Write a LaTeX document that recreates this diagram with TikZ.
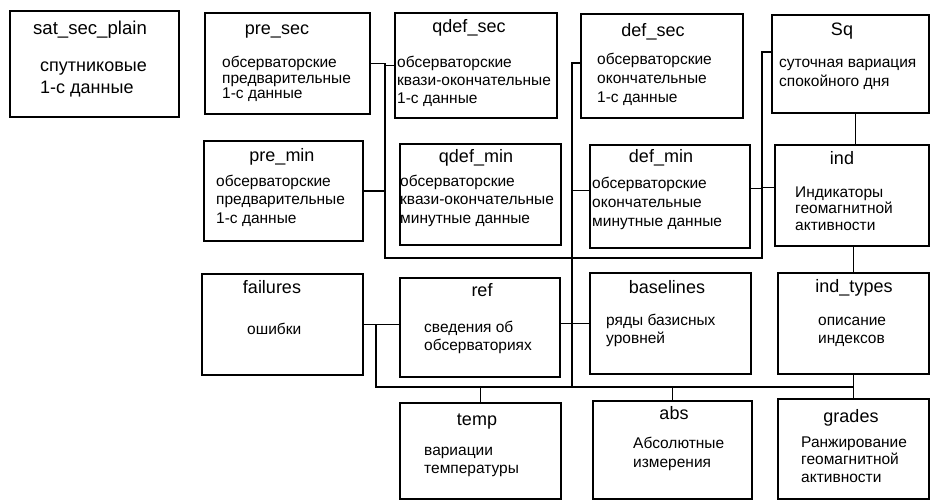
\documentclass[tikz,border=0pt]{standalone}
\usepackage{fontspec}
\setmainfont{Liberation Sans}
\usetikzlibrary{positioning, calc}
\tikzset{
  tbl/.style={
    rectangle, draw=black, line width=2.2pt, anchor=north west,
    inner sep=0pt
  },
  ttl/.style={anchor=base, inner sep=0pt, font=\fontsize{18}{20}\selectfont},
  dsc/.style={
    anchor=base west, inner sep=0pt, align=left,
    font=\fontsize{15.5}{#1}\selectfont
  },
  dsc/.default=18,
  link/.style={draw=black, line width=1.3pt}
}

\begin{document}
\begin{tikzpicture}[x=1pt, y=-1pt]
\useasboundingbox (0,0) rectangle (930,500);

% ── Row 1: 1-s tables (y=10..117) ────────────────────────────────────────────
% (body nodes sit on the baseline of their last line)
\node[tbl, minimum width=169pt, minimum height=106pt] (satsec) at (9,10) {};
\node[ttl, font=\fontsize{18.6}{20}\selectfont] (satsec-t) at (90,35) {sat\_sec\_plain};
\node[dsc=22, font=\fontsize{18}{22}\selectfont] (satsec-d) at (40,94) {спутниковые\\1-с данные};

\node[tbl, minimum width=165pt, minimum height=101pt] (presec) at (204,12) {};
\node[ttl] (presec-t) at (277,35) {pre\_sec};
\node[dsc=15.5] (presec-d) at (222,99) {обсерваторские\\предварительные\\1-с данные};

\node[tbl, minimum width=162pt, minimum height=105pt] (qdefsec) at (394,12) {};
\node[ttl] (qdefsec-t) at (469,33) {qdef\_sec};
\node[dsc] (qdefsec-d) at (397,104) {обсерваторские\\квази-окончательные\\1-с данные};

\node[tbl, minimum width=162pt, minimum height=104pt] (defsec) at (580,13) {};
\node[ttl] (defsec-t) at (653,37) {def\_sec};
\node[dsc=19] (defsec-d) at (597,103) {обсерваторские\\окончательные\\1-с данные};

\node[tbl, minimum width=157pt, minimum height=98pt] (sq) at (771,14) {};
\node[ttl] (sq-t) at (842,36) {Sq};
\node[dsc=19] (sq-d) at (779,87) {суточная вариация\\спокойного дня};

% ── Row 2: minute tables and indices (y=140..247) ────────────────────────────
\node[tbl, minimum width=159pt, minimum height=100pt] (premin) at (203,140) {};
\node[ttl] (premin-t) at (282,162) {pre\_min};
\node[dsc] (premin-d) at (216,223) {обсерваторские\\предварительные\\1-с данные};

\node[tbl, minimum width=161pt, minimum height=101pt] (qdefmin) at (399,143) {};
\node[ttl] (qdefmin-t) at (476,163) {qdef\_min};
\node[dsc=18.5] (qdefmin-d) at (400,223) {обсерваторские\\квази-окончательные\\минутные данные};

\node[tbl, minimum width=160pt, minimum height=103pt] (defmin) at (589,144) {};
\node[ttl] (defmin-t) at (661,163) {def\_min};
\node[dsc=19.5] (defmin-d) at (592,227) {обсерваторские\\окончательные\\минутные данные};

\node[tbl, minimum width=154pt, minimum height=101pt] (ind) at (774,144) {};
\node[ttl] (ind-t) at (842,165) {ind};
\node[dsc=16.5] (ind-d) at (795,230) {Индикаторы\\геомагнитной\\активности};

% ── Row 3: reference tables (y=272..376) ─────────────────────────────────────
\node[tbl, minimum width=161pt, minimum height=101pt] (failures) at (201,273) {};
\node[ttl] (failures-t) at (272,294) {failures};
\node[dsc] (failures-d) at (247,334) {ошибки};

\node[tbl, minimum width=160pt, minimum height=99pt] (ref) at (399,277) {};
\node[ttl] (ref-t) at (482,296) {ref};
\node[dsc] (ref-d) at (424,350) {сведения об\\обсерваториях};

\node[tbl, minimum width=161pt, minimum height=101pt] (baselines) at (589,272) {};
\node[ttl] (baselines-t) at (667,293) {baselines};
\node[dsc] (baselines-d) at (606,343) {ряды базисных\\уровней};

\node[tbl, minimum width=151pt, minimum height=101pt] (indtypes) at (777,272) {};
\node[ttl] (indtypes-t) at (854,292) {ind\_types};
\node[dsc] (indtypes-d) at (818,343) {описание\\индексов};

% ── Row 4: bottom tables (y=398..498) ────────────────────────────────────────
\node[tbl, minimum width=161pt, minimum height=96pt] (temp) at (399,402) {};
\node[ttl] (temp-t) at (477,425) {temp};
\node[dsc] (temp-d) at (424,473) {вариации\\температуры};

\node[tbl, minimum width=159pt, minimum height=98pt] (abs) at (592,400) {};
\node[ttl] (abs-t) at (674,419) {abs};
\node[dsc=19] (abs-d) at (633,467) {Абсолютные\\измерения};

\node[tbl, minimum width=151pt, minimum height=100pt] (grades) at (777,398) {};
\node[ttl] (grades-t) at (851,422) {grades};
\node[dsc=17.5] (grades-d) at (801,482) {Ранжирование\\геомагнитной\\активности};

% ── Bus corners ──────────────────────────────────────────────────────────────
\coordinate (lbus) at (385,258);
\coordinate (mbus) at (572,387);
\coordinate (rbus) at (762,258);
\coordinate (fbus) at (376,387);

% left bus: pre_sec, qdef_sec, pre_min
\draw[link] (presec.east) -| (lbus) -- (mbus |- lbus);
\draw[link] (qdefsec.west) -- (qdefsec.west -| lbus);
\draw[link] (premin.east) -- (premin.east -| lbus);

% middle bus: def_sec, def_min, down to the bottom rail
\draw[link] ([yshift=3pt]defsec.west) -| (mbus);
\draw[link] ([yshift=6pt]defmin.west) -- ([yshift=6pt]defmin.west -| mbus);

% right bus: Sq, ind, def_min
\draw[link] ([yshift=12pt]sq.west) -| (rbus) -- (mbus |- rbus);
\draw[link] ([yshift=8pt]ind.west) -- ([yshift=8pt]ind.west -| rbus);
\draw[link] ([yshift=8pt]defmin.east) -- ([yshift=8pt]defmin.east -| rbus);
\draw[link] ([xshift=5pt]sq.south) -- ([xshift=5pt]sq.south |- ind.north);
\draw[link] (indtypes.north |- ind.south) -- (indtypes.north);

% lower rail: failures, ref, baselines, temp, abs, grades
\draw[link] (failures.east) -- (failures.east -| ref.west);
\draw[link] (baselines.west -| ref.east) -- (baselines.west);
\draw[link] (failures.east -| fbus) -- (fbus) -- (fbus -| grades.north);
\draw[link] (temp.north |- fbus) -- (temp.north);
\draw[link] (abs.north |- fbus) -- (abs.north);
\draw[link] (indtypes.south) -- (grades.north);

\end{tikzpicture}
\end{document}
